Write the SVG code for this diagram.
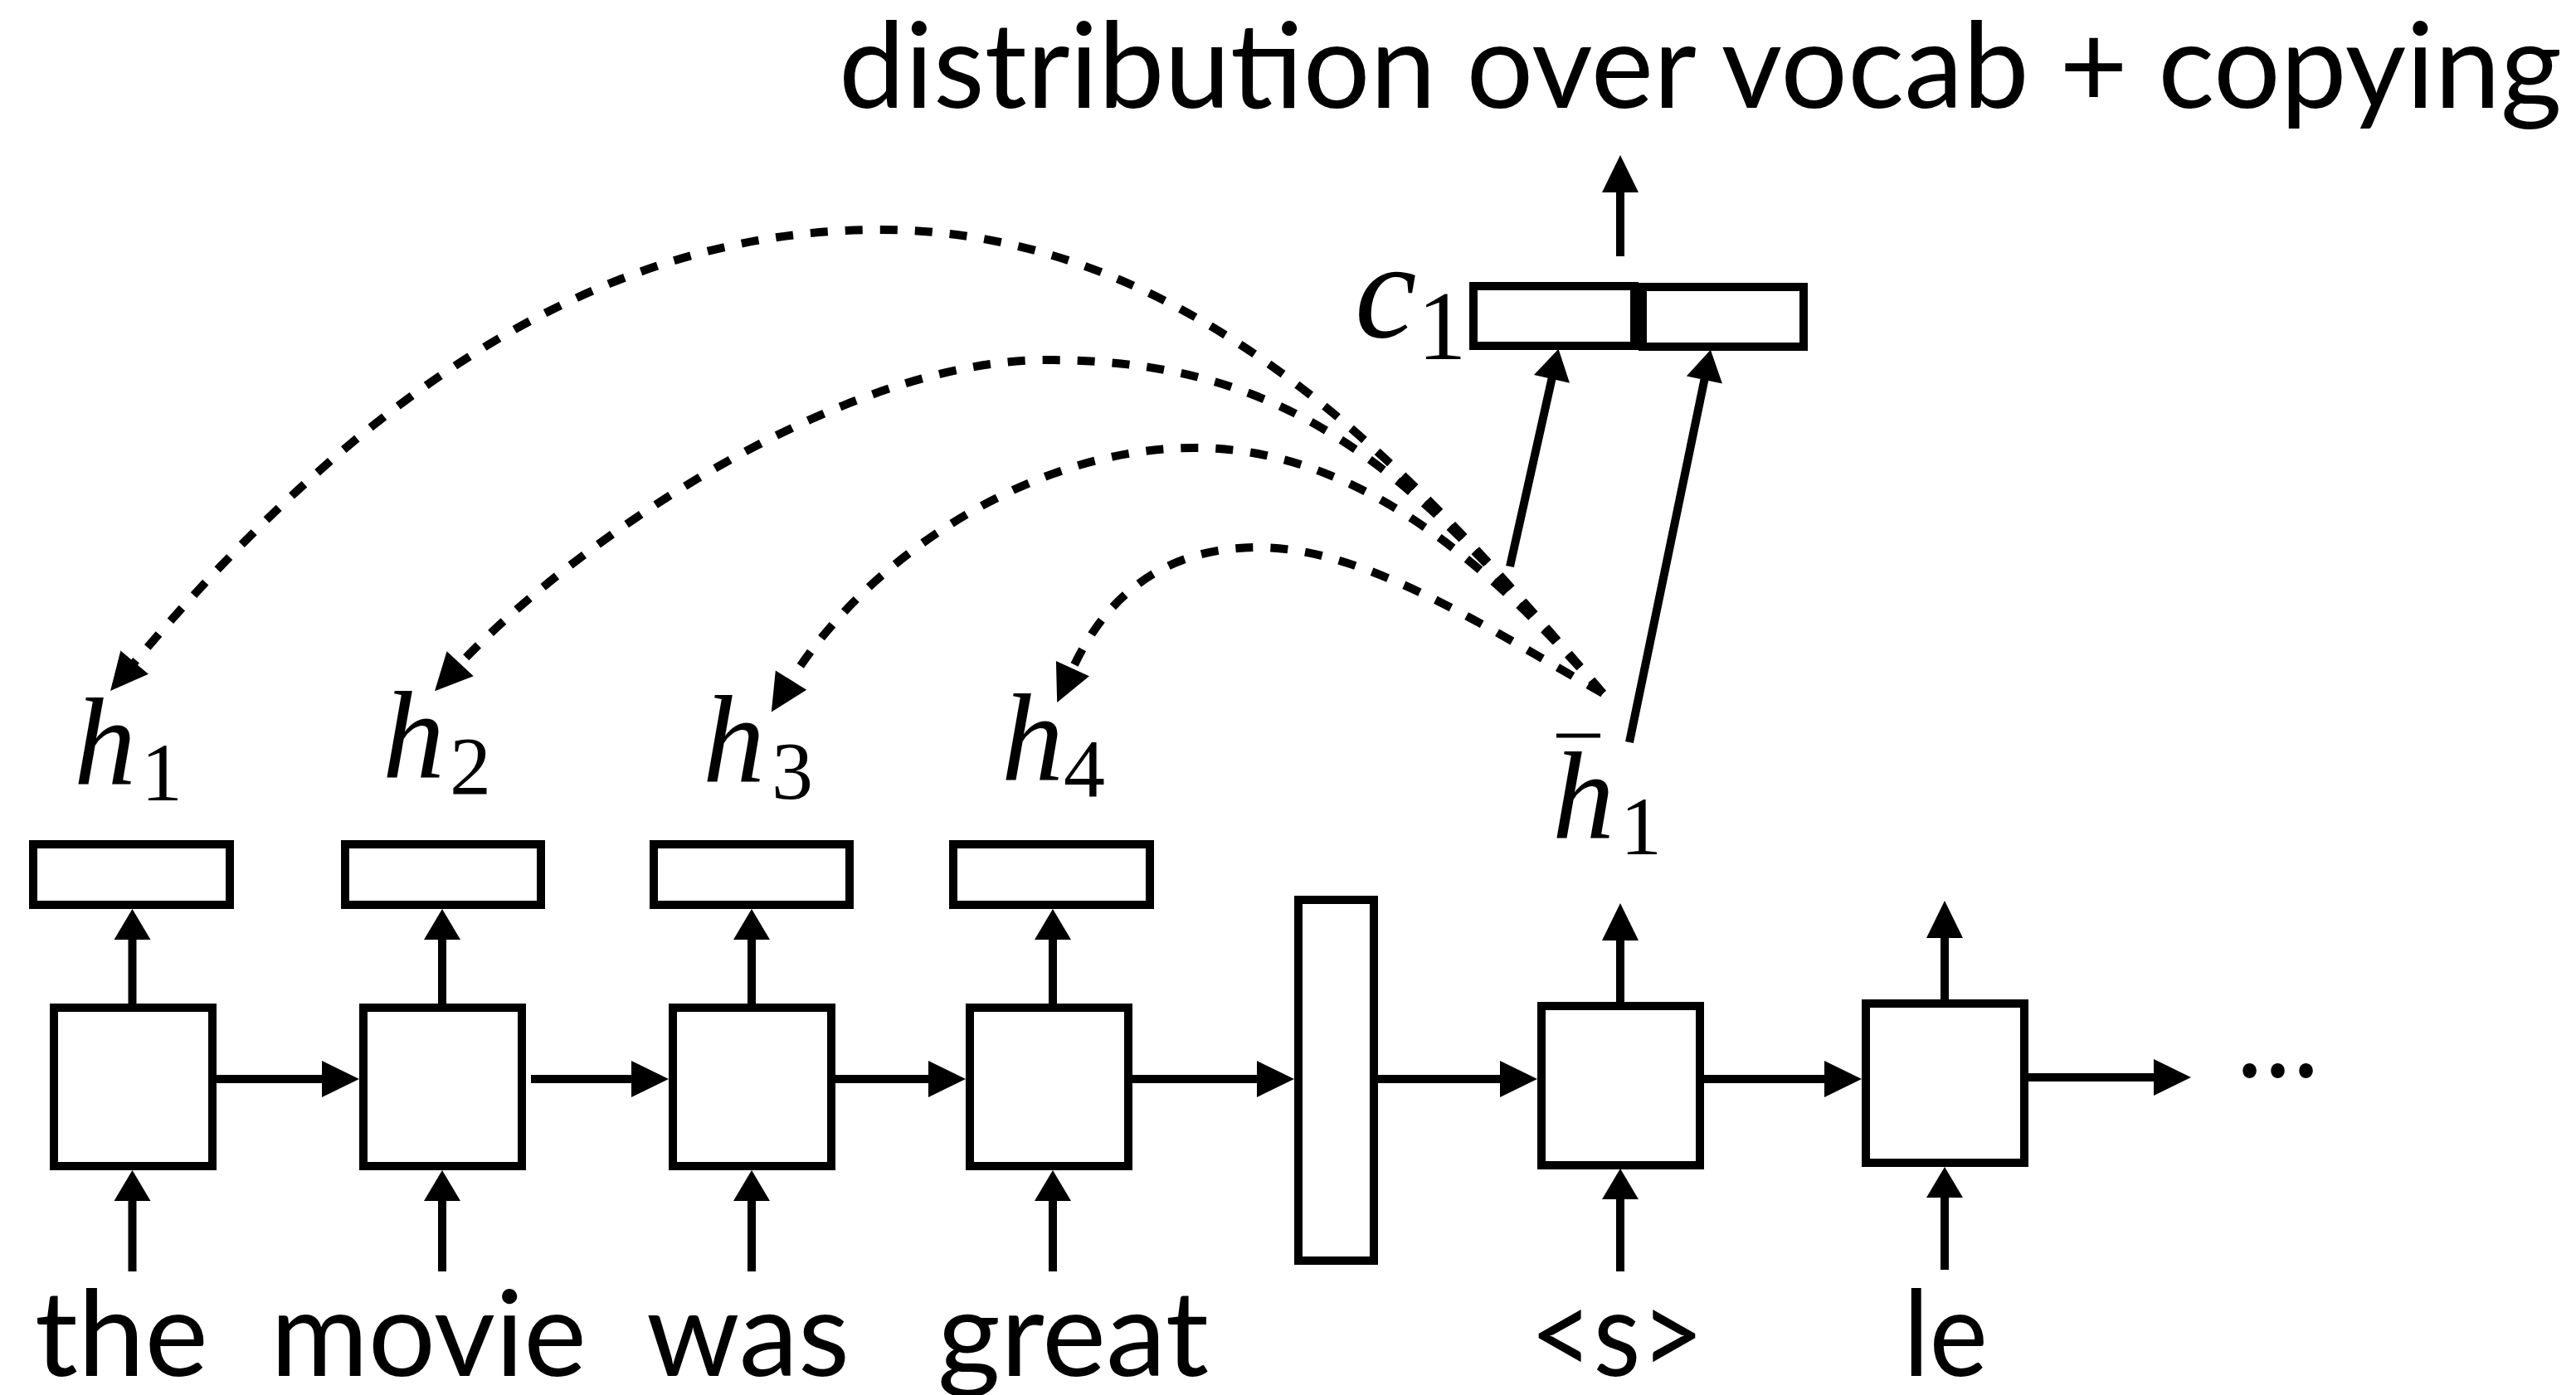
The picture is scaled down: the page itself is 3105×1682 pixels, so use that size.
<svg xmlns="http://www.w3.org/2000/svg" width="3105" height="1682" viewBox="0 0 3105 1682">
  <style>
    .box { fill: #ffffff; stroke: #000000; stroke-width: 10; }
    .wire { fill: none; stroke: #000000; stroke-width: 10; }
    .dash { fill: none; stroke: #000000; stroke-width: 10; stroke-dasharray: 21 21; }
    .word { font-family: Lato, "Liberation Sans", sans-serif; font-size: 144px; fill: #000000; }
    .math { font-family: "Liberation Serif", "DejaVu Serif", serif; font-style: italic; fill: #000000; }
    .sub { font-family: "Liberation Serif", "DejaVu Serif", serif; fill: #000000; text-anchor: middle; }
  </style>
  <defs>
    <marker id="big" markerUnits="userSpaceOnUse" viewBox="0 -25 50 50" refX="0" refY="0" markerWidth="50" markerHeight="50" orient="auto" overflow="visible">
      <path d="M-1,-22 L44,0 L-1,22 z" fill="#000000"/>
    </marker>
    <marker id="small" markerUnits="userSpaceOnUse" viewBox="0 -25 50 50" refX="0" refY="0" markerWidth="50" markerHeight="50" orient="auto" overflow="visible">
      <path d="M-1,-22 L36,0 L-1,22 z" fill="#000000"/>
    </marker>
  </defs>

  <rect width="3105" height="1682" fill="#ffffff"/>

  <!-- output label -->
  <g id="title">
    <text class="word" x="1011" y="130" textLength="2077" lengthAdjust="spacingAndGlyphs">distribution over vocab + copying</text>
  </g>

  <!-- encoder hidden-state vectors -->
  <g id="enc-h1">
    <rect class="box" x="40" y="1018" width="237" height="73"/>
    <text class="math" x="89" y="945" font-size="150">h</text>
    <text class="sub" x="195" y="965" font-size="100">1</text>
  </g>
  <g id="enc-h2">
    <rect class="box" x="416" y="1018" width="236" height="73"/>
    <text class="math" x="461" y="937" font-size="150">h</text>
    <text class="sub" x="567" y="957" font-size="100">2</text>
  </g>
  <g id="enc-h3">
    <rect class="box" x="788" y="1018" width="236" height="73"/>
    <text class="math" x="847" y="942" font-size="150">h</text>
    <text class="sub" x="955" y="963" font-size="100">3</text>
  </g>
  <g id="enc-h4">
    <rect class="box" x="1149" y="1018" width="237" height="73"/>
    <text class="math" x="1207" y="940" font-size="150">h</text>
    <text class="sub" x="1307" y="960" font-size="100">4</text>
  </g>

  <!-- encoder cells -->
  <g id="enc-cell1"><rect class="box" x="65" y="1215" width="191" height="191"/></g>
  <g id="enc-cell2"><rect class="box" x="438" y="1215" width="191" height="191"/></g>
  <g id="enc-cell3"><rect class="box" x="811" y="1215" width="191" height="191"/></g>
  <g id="enc-cell4"><rect class="box" x="1169" y="1215" width="191" height="191"/></g>

  <!-- bridge vector between encoder and decoder -->
  <g id="bridge"><rect class="box" x="1565" y="1085" width="91" height="435"/></g>

  <!-- decoder cells -->
  <g id="dec-cell1"><rect class="box" x="1858" y="1213" width="191" height="192"/></g>
  <g id="dec-cell2"><rect class="box" x="2249" y="1210" width="191" height="192"/></g>

  <!-- decoder state label -->
  <g id="dec-hbar1">
    <line x1="1876" y1="887" x2="1929" y2="887" stroke="#000000" stroke-width="5"/>
    <text class="math" x="1871" y="1010" font-size="150">h</text>
    <text class="sub" x="1978" y="1030" font-size="100">1</text>
  </g>

  <!-- context vector concatenated with decoder state -->
  <g id="concat">
    <rect class="box" x="1776" y="345" width="194" height="72"/>
    <rect class="box" x="1980" y="346" width="194" height="72"/>
    <text class="math" x="1633" y="406" font-size="168">c</text>
    <text class="sub" x="1738" y="433" font-size="118">1</text>
  </g>

  <!-- input words -->
  <g id="words">
    <text class="word" x="42" y="1659" textLength="209" lengthAdjust="spacingAndGlyphs">the</text>
    <text class="word" x="326" y="1659" textLength="381" lengthAdjust="spacingAndGlyphs">movie</text>
    <text class="word" x="779" y="1659" textLength="245" lengthAdjust="spacingAndGlyphs">was</text>
    <text class="word" x="1130" y="1659" textLength="327" lengthAdjust="spacingAndGlyphs">great</text>
    <text class="word" x="1844" y="1659" textLength="210" lengthAdjust="spacingAndGlyphs">&lt;s&gt;</text>
    <text class="word" x="2294" y="1659" textLength="102" lengthAdjust="spacingAndGlyphs">le</text>
    <text class="word" x="2696" y="1299" textLength="99" lengthAdjust="spacingAndGlyphs">…</text>
  </g>

  <g id="connectors">
    <!-- inputs into cells -->
    <path class="wire" d="M159.5,1533 V1447" marker-end="url(#small)"/>
    <path class="wire" d="M533,1533 V1447" marker-end="url(#small)"/>
    <path class="wire" d="M906,1533 V1447" marker-end="url(#small)"/>
    <path class="wire" d="M1269,1533 V1447" marker-end="url(#small)"/>
    <path class="wire" d="M1953,1533 V1445" marker-end="url(#small)"/>
    <path class="wire" d="M2344,1531 V1443" marker-end="url(#small)"/>

    <!-- cells up to hidden vectors -->
    <path class="wire" d="M159.5,1215 V1132" marker-end="url(#small)"/>
    <path class="wire" d="M533,1215 V1132" marker-end="url(#small)"/>
    <path class="wire" d="M906,1215 V1132" marker-end="url(#small)"/>
    <path class="wire" d="M1269,1215 V1132" marker-end="url(#small)"/>
    <path class="wire" d="M1953,1213 V1133" marker-end="url(#big)"/>
    <path class="wire" d="M2344,1210 V1130" marker-end="url(#big)"/>

    <!-- recurrent links -->
    <path class="wire" d="M256,1301 H389" marker-end="url(#big)"/>
    <path class="wire" d="M640,1301 H762" marker-end="url(#big)"/>
    <path class="wire" d="M1002,1301 H1120" marker-end="url(#big)"/>
    <path class="wire" d="M1360,1301 H1516" marker-end="url(#big)"/>
    <path class="wire" d="M1656,1301 H1809" marker-end="url(#big)"/>
    <path class="wire" d="M2049,1301 H2200" marker-end="url(#big)"/>
    <path class="wire" d="M2440,1299 H2597" marker-end="url(#big)"/>

    <!-- attention links -->
    <path class="dash" d="M1932,836 C1737,608 1460,277 1060,277 C680,277 388,532 161.5,799.4" marker-end="url(#big)"/>
    <path class="dash" d="M1932,836 C1704,570 1562,434 1262,434 C1012,434 690,655 554,801" marker-end="url(#big)"/>
    <path class="dash" d="M1932,836 C1800,686 1640,540 1440,540 C1240,540 1043,676 953,821" marker-end="url(#big)"/>
    <path class="dash" d="M1932,836 C1801,762 1647,660 1517,660 C1397,660 1330,725 1292.5,807" marker-end="url(#big)"/>

    <!-- into the concatenated vector -->
    <path class="wire" d="M1820,683 L1870.7,455.9" marker-end="url(#small)"/>
    <path class="wire" d="M1964,895 L2054.6,457" marker-end="url(#small)"/>

    <!-- up to the output distribution -->
    <path class="wire" d="M1953,309 V231" marker-end="url(#big)"/>
  </g>
</svg>
